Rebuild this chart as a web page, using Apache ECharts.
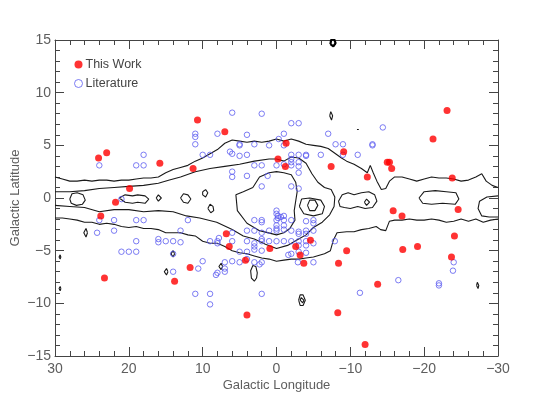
<!DOCTYPE html>
<html><head><meta charset="utf-8">
<script src="https://cdn.jsdelivr.net/npm/echarts@6/dist/echarts.min.js"></script>
<style>html,body{margin:0;padding:0;background:#fff}#c{width:554px;height:396px}</style>
</head><body><div id="c"></div>
<script>
// ---- data ----
const xTicks = [30, 20, 10, 0, -10, -20, -30];
const yTicks = [-15, -10, -5, 0, 5, 10, 15];
const seriesNames = ['This Work', 'Literature'];

const thisWork = [
 [24.1,3.8],[23.0,4.3],[19.9,0.9],[15.8,3.3],[11.3,2.8],[10.7,7.4],[7.0,6.3],[21.8,-0.4],[23.8,-1.7],
 [-0.2,3.7],[-1.3,5.2],[-1.2,3.0],[-9.1,4.4],[-7.4,3.0],[-12.3,2.0],[-15.0,3.4],[-15.3,3.4],[-15.6,2.8],
 [-21.2,5.6],[-23.1,8.3],[-23.8,1.9],[-15.8,-1.2],[-17.0,-1.7],[-24.6,-1.1],[23.3,-7.6],[13.8,-7.9],
 [11.7,-6.6],[6.8,-3.4],[6.4,-4.6],[4.2,-5.9],[4.0,-11.1],[0.9,-4.8],[-24.1,-3.6],[-23.7,-5.6],
 [-19.1,-4.6],[-17.1,-4.9],[-9.5,-5.0],[-8.4,-6.2],[-13.7,-8.2],[-8.3,-10.9],[-12.0,-13.9],
 [-4.6,-4.0],[-2.6,-4.6],[-3.2,-5.4],[-3.7,-6.2]
];

const literature = [
 [24.0,3.1],[19.0,3.1],[18.0,3.1],[18.0,4.1],[21.0,-0.1],
 [11.0,6.1],[11.0,5.8],[11.0,5.1],[10.0,4.1],[9.0,4.1],[8.0,6.1],[6.0,8.1],[6.3,4.4],[6.0,4.2],
 [5.0,5.1],[5.0,5.0],[4.0,6.0],[5.0,4.0],[4.0,4.1],[6.0,2.5],[6.0,2.0],[4.0,2.1],[3.0,5.1],
 [3.0,3.1],[2.0,3.1],[2.0,8.0],[2.0,1.1],[1.0,5.0],[1.2,2.1],[0.0,3.1],[-0.3,5.6],
 [-2.0,7.1],[-3.0,7.1],[-1.0,6.1],[-1.0,5.0],[-7.0,6.1],[-14.4,6.7],[-8.0,5.1],[-9.0,5.1],
 [-13.0,5.1],[-13.0,5.0],[-2.0,4.1],[-3.0,4.1],[-4.0,4.1],[-4.0,4.0],[-6.0,4.1],[-9.0,4.1],
 [-11.0,4.1],[-2.0,3.7],[-2.0,3.4],[-1.0,3.2],[-2.0,3.1],[-3.0,3.4],[-3.0,3.0],[-3.0,2.4],
 [-2.0,1.1],[-3.0,0.9],
 [24.0,-2.1],[22.0,-2.1],[19.0,-2.1],[18.0,-2.1],[24.3,-3.3],[22.0,-3.1],[19.0,-4.1],[16.0,-3.9],
 [16.0,-4.2],[15.0,-4.1],[21.0,-5.1],[20.0,-5.1],[19.0,-5.1],[14.0,-4.1],[13.0,-4.2],[13.0,-3.1],
 [12.0,-2.1],[14.0,-5.3],[14.0,-7.0],[11.0,-9.1],[9.0,-9.1],[9.0,-10.1],[10.6,-6.7],[10.0,-6.0],
 [9.0,-4.1],[8.0,-4.1],[8.0,-4.3],[7.8,-3.8],[8.2,-7.3],[8.0,-7.1],[7.0,-6.7],[7.0,-7.0],[7.0,-6.1],
 [6.0,-3.3],[6.0,-4.1],[5.0,-5.1],[5.0,-6.1],[4.0,-5.1],[4.0,-5.8],[6.0,-6.0],[4.0,-4.1],[4.0,-3.1],
 [3.0,-3.1],[3.0,-4.3],[3.0,-4.6],[3.0,-4.9],[3.0,-2.1],[2.0,-2.1],[2.0,-2.3],[2.0,-4.1],[2.0,-3.3],
 [2.0,-3.9],[2.0,-5.0],[3.0,-6.1],[2.0,-6.1],[2.3,-6.3],[2.0,-9.1],[1.0,-4.1],[1.0,-3.1],
 [0.0,-1.2],[0.0,-1.5],[-0.2,-1.7],[-0.2,-1.9],[0.0,-2.6],[0.0,-2.9],[0.0,-3.1],[0.0,-4.1],
 [-0.6,-1.8],[-1.0,-1.7],[-1.0,-2.1],[0.0,-2.1],[-2.0,-2.1],[-4.0,-2.2],[-5.0,-2.1],[-5.0,-2.4],
 [-1.0,-2.6],[-1.0,-3.0],[-2.0,-3.1],[-3.0,-3.2],[-4.0,-3.1],[-5.0,-3.1],[-3.0,-3.4],[-4.0,-3.4],
 [-1.0,-4.1],[-2.0,-4.1],[-3.0,-4.1],[-4.0,-4.1],[-5.0,-4.3],[-3.0,-4.5],[-4.0,-4.5],
 [-1.6,-5.4],[-2.0,-5.3],[-3.0,-5.1],[-4.0,-5.2],[-2.9,-6.1],[-5.0,-6.1],[-7.9,-4.1],[-11.3,-9.0],
 [-16.5,-7.8],[-22.0,-8.1],[-22.0,-8.3],[-24.0,-6.1],[-23.9,-6.9]
];

// contour lines (galactic l, b)
const outerTop = [[30,2.0],[29,1.8],[28,1.6],[27,1.6],[26,1.7],[25,1.6],[24,1.7],[23,1.7],[22,1.6],[21,1.7],[20,1.7],[19,1.8],[18,1.9],[17,1.9],[16,2.0],[15,2.4],[14,2.7],[13,2.9],[12,3.1],[11,3.5],[10,3.8],[9,4.2],[8,4.6],[7,5.2],[6,5.5],[5,5.4],[4,5.3],[3,5.4],[2,5.3],[1,5.4],[0,5.6],[-1,5.4],[-2,5.6],[-3,5.4],[-4,5.1],[-5,5.0],[-6,4.9],[-7,4.7],[-8,4.2],[-8.8,3.8],[-9.5,3.5],[-10.5,3.2],[-11.5,2.8],[-12.3,2.4],[-12.7,3.1],[-13.1,2.4],[-13.6,1.6],[-14.2,0.8],[-14.8,0.9],[-15.3,1.6],[-16,2.0],[-17,2.0],[-18,1.8],[-19,1.6],[-20,1.8],[-21,2.0],[-22,1.9],[-23,1.9],[-24,1.8],[-25,1.6],[-26,1.7],[-27,2.0],[-27.8,2.3],[-28.4,1.6],[-29.2,1.2],[-30,1.0]];
const outerBottom = [[-30,-2.0],[-29,-2.1],[-28,-2.3],[-27,-2.0],[-26,-2.2],[-25,-2.0],[-24,-2.2],[-23,-2.3],[-22,-2.1],[-21,-2.0],[-20,-2.1],[-19,-2.1],[-18,-2.0],[-17,-2.1],[-16,-2.1],[-15.3,-2.2],[-14.8,-3.1],[-14.1,-3.0],[-13.5,-2.7],[-12.5,-2.9],[-11.5,-3.0],[-10.5,-3.2],[-9.5,-3.2],[-8.2,-3.3],[-7.7,-4.0],[-7.3,-5.0],[-6.5,-5.3],[-5,-5.6],[-4,-5.7],[-3,-5.8],[-2,-5.8],[-1,-5.9],[0,-6.0],[1,-5.8],[2,-5.7],[3,-5.5],[4,-5.3],[5,-5.2],[6,-5.0],[7,-4.6],[8,-4.3],[9,-4.3],[10,-4.1],[11,-3.6],[12,-3.5],[13,-3.3],[14,-3.3],[15,-3.3],[16,-3.0],[17,-2.9],[18,-2.9],[19,-2.7],[20,-2.8],[21,-2.7],[22,-2.5],[23,-2.4],[24,-2.5],[25,-2.3],[26,-2.3],[27,-2.1],[28,-2.0],[29,-1.9],[30,-1.9]];
const midContour = [[30,0.6],[28,0.6],[26,0.7],[24,0.9],[22,1.0],[20,1.1],[18,1.2],[16,1.4],[14.5,1.7],[13,2.0],[11,2.5],[9,2.8],[7,3.0],[5,3.2],[3,3.5],[1,3.7],[0,3.7],[-1,3.5],[-2,3.9],[-3,3.8],[-4,3.3],[-4.8,2.3],[-5.6,1.5],[-6.5,1.0],[-7.4,0.8],[-7.9,0.1],[-7.8,-0.8],[-7.2,-1.6],[-6.2,-2.3],[-5,-2.8],[-4,-3.5],[-3,-3.9],[-1.5,-4.5],[0,-4.8],[1.5,-4.4],[3,-3.9],[4.5,-3.6],[6,-3.0],[8.1,-2.3],[10.4,-1.9],[12.2,-1.7],[14,-1.3],[16,-1.2],[18,-1.3],[20,-1.1],[22,-1.1],[24,-1.3],[26,-0.9],[28,-0.8],[30,-0.7]];
const innerContour = [[3.2,1.0],[2.3,2.0],[1,2.4],[0,2.5],[-1,2.4],[-2,2.2],[-2.6,1.5],[-2.8,0.6],[-2.6,-0.3],[-2.4,-1.2],[-2.5,-2.1],[-1.8,-2.9],[-1,-3.3],[0,-3.5],[2.3,-3.1],[4,-2.4],[5.3,-1.2],[5.5,0.3],[4.5,0.6],[3.2,1.0]];
const coreLoop = [[-3.1,-0.8],[-3.4,-0.1],[-4.5,0.0],[-6.0,-0.2],[-6.5,-0.8],[-6.2,-1.5],[-5.0,-1.7],[-3.7,-1.5],[-3.1,-0.8]];
const coreInner = [[-4.2,-0.7],[-4.5,-0.2],[-5.2,-0.2],[-5.6,-0.7],[-5.2,-1.2],[-4.5,-1.2],[-4.2,-0.7]];
const islandA = [[28.0,-0.1],[27.7,0.4],[27.0,0.5],[26.2,0.3],[25.9,-0.2],[26.3,-0.6],[27.1,-0.7],[27.8,-0.5],[28.0,-0.1]];
const islandB = [[21.3,0.0],[20.5,0.3],[19.5,0.2],[18.8,0.3],[17.8,0.2],[17.3,-0.1],[17.8,-0.5],[18.8,-0.4],[19.5,-0.5],[20.5,-0.4],[21.3,0.0]];
const islandC = [[16.3,0.0],[16.0,0.3],[15.6,0.0],[16.0,-0.3],[16.3,0.0]];
const islandD = [[13.0,0.0],[12.6,0.4],[12.0,0.3],[11.6,-0.1],[12.0,-0.5],[12.6,-0.4],[13.0,0.0]];
const islandE = [[10.0,0.6],[9.6,0.8],[9.3,0.5],[9.6,0.1],[10.0,0.3],[10.0,0.6]];
const islandF = [[9.3,-1.0],[9.0,-0.6],[8.6,-0.8],[8.5,-1.2],[8.9,-1.4],[9.3,-1.0]];
const islandR1 = [[-8.4,-0.3],[-8.9,0.3],[-9.7,0.5],[-10.5,0.3],[-11.5,0.5],[-12.5,0.6],[-13.3,0.3],[-13.6,-0.3],[-13.0,-0.9],[-12.0,-1.0],[-11.0,-0.8],[-10.0,-1.0],[-9.2,-0.9],[-8.6,-0.8],[-8.4,-0.3]];
const islandR1in = [[-11.9,-0.4],[-12.2,-0.1],[-12.6,-0.4],[-12.2,-0.7],[-11.9,-0.4]];
const islandR2 = [[-19.3,0.0],[-20,0.6],[-21.5,0.7],[-23,0.6],[-24.3,0.5],[-24.7,-0.1],[-24.2,-0.6],[-22.5,-0.5],[-21,-0.6],[-19.8,-0.5],[-19.3,0.0]];
const islandR3 = [[-30,0.2],[-28.5,0.1],[-27.5,-0.3],[-27.3,-1.0],[-27.8,-1.7],[-28.8,-1.8],[-30,-1.8]];
const blobTop = [[-7.3,14.6],[-7.4,15.0],[-7.8,15.1],[-8.0,14.7],[-7.7,14.4],[-7.3,14.6]];
const blob1 = [[-7.2,7.8],[-7.35,8.2],[-7.6,7.8],[-7.45,7.4],[-7.2,7.8]];
const blob2 = [[25.6,-3.3],[25.8,-2.9],[26.1,-3.3],[25.8,-3.7],[25.6,-3.3]];
const blob3 = [[14.7,-7.0],[14.9,-6.7],[15.2,-7.0],[14.9,-7.3],[14.7,-7.0]];
const blob4 = [[7.3,-6.5],[7.5,-6.2],[7.8,-6.5],[7.5,-6.8],[7.3,-6.5]];
const blob5 = [[2.6,-7.1],[2.8,-6.5],[3.2,-6.4],[3.5,-6.9],[3.4,-7.6],[3.0,-7.9],[2.7,-7.6],[2.6,-7.1]];
const blob6 = [[-3.0,-9.7],[-3.2,-9.2],[-3.6,-9.2],[-3.9,-9.7],[-3.6,-10.2],[-3.2,-10.2],[-3.0,-9.7]];
const blob6b = [[-3.2,-9.7],[-3.35,-9.45],[-3.6,-9.45],[-3.7,-9.7],[-3.55,-9.95],[-3.3,-9.95],[-3.2,-9.7]];
const blob7 = [[-27.1,-8.3],[-27.2,-8.0],[-27.4,-8.3],[-27.3,-8.6],[-27.1,-8.3]];
const blob8 = [[29.2,-5.6],[29.3,-5.4],[29.45,-5.6],[29.3,-5.8],[29.2,-5.6]];
const blob9 = [[29.2,-8.6],[29.3,-8.4],[29.45,-8.6],[29.3,-8.8],[29.2,-8.6]];
const blob10 = [[13.8,-5.3],[14.0,-5.0],[14.3,-5.3],[14.0,-5.6],[13.8,-5.3]];
const blob11 = [[-10.9,6.5],[-11.0,6.6],[-11.15,6.5],[-11.0,6.4],[-10.9,6.5]];

// ---- chart ----
const contourList = [outerTop, outerBottom, midContour, innerContour, coreLoop, coreInner,
  islandA, islandB, islandC, islandD, islandE, islandF, islandR1, islandR1in, islandR2, islandR3,
  blob1, blob2, blob3, blob4, blob5, blob6, blob6b, blob7, blob8, blob9, blob10, blob11];

const textColor = '#5e5e5e';
const fontFam = 'Liberation Sans, Arial, sans-serif';
const fmt = v => (v < 0 ? '\u2212' + Math.abs(v) : String(v));

const series = contourList.map(c => ({
  type: 'line', data: c, showSymbol: false, symbol: 'none', silent: true,
  lineStyle: { color: '#1a1a1a', width: 1.1 }, z: 2, animation: false
}));
series.push({
  type: 'line', data: blobTop, showSymbol: false, symbol: 'none', silent: true,
  lineStyle: { color: '#000', width: 2.2 }, z: 2, animation: false
});
series.push({
  name: seriesNames[1], type: 'scatter', data: literature, symbol: 'circle', symbolSize: 5.5,
  itemStyle: { color: 'rgba(0,0,0,0)', borderColor: '#5c5cf0', borderWidth: 1 }, z: 3
});
series.push({
  name: seriesNames[0], type: 'scatter', data: thisWork, symbol: 'circle', symbolSize: 7,
  itemStyle: { color: '#ff0000' }, z: 4
});

const axisCommon = {
  type: 'value', splitLine: { show: false },
  axisLine: { show: true, onZero: false, lineStyle: { color: '#444', width: 1 } },
  axisTick: { show: true, inside: true, length: 9, lineStyle: { color: '#444' } },
  minorTick: { show: true, splitNumber: 5, length: 5, lineStyle: { color: '#444' } },
  minorSplitLine: { show: false }
};

const option = {
  animation: false,
  backgroundColor: '#fff',
  grid: { left: 55, right: 56, top: 40, bottom: 40, containLabel: false, outerBoundsMode: 'none' },
  legend: {
    orient: 'vertical', left: 69, top: 53, itemGap: 6, itemWidth: 8, itemHeight: 8,
    textStyle: { color: '#444', fontSize: 12.5, fontFamily: fontFam, padding: [0, 0, 0, -2] },
    data: [
      { name: seriesNames[0], icon: 'circle' },
      { name: seriesNames[1], icon: 'circle', itemStyle: { color: 'rgba(0,0,0,0)', borderColor: '#5c5cf0', borderWidth: 1 } }
    ]
  },
  xAxis: [
    Object.assign({}, axisCommon, {
      position: 'bottom', min: xTicks[xTicks.length - 1], max: xTicks[0], interval: 10, inverse: true,
      axisLabel: { color: textColor, fontSize: 14, fontFamily: fontFam, margin: 6, formatter: fmt },
      name: 'Galactic Longitude', nameLocation: 'middle', nameGap: 23, nameMoveOverlap: false,
      nameTextStyle: { color: textColor, fontSize: 13, fontFamily: fontFam }
    }),
    Object.assign({}, axisCommon, {
      position: 'top', min: xTicks[xTicks.length - 1], max: xTicks[0], interval: 10, inverse: true,
      axisLabel: { show: false }
    })
  ],
  yAxis: [
    Object.assign({}, axisCommon, {
      position: 'left', min: yTicks[0], max: yTicks[yTicks.length - 1], interval: 5,
      axisLabel: { color: textColor, fontSize: 14, fontFamily: fontFam, margin: 4, formatter: fmt },
      name: 'Galactic Latitude', nameLocation: 'middle', nameGap: 33, nameRotate: 90, nameMoveOverlap: false,
      nameTextStyle: { color: textColor, fontSize: 13, fontFamily: fontFam }
    }),
    Object.assign({}, axisCommon, {
      position: 'right', min: yTicks[0], max: yTicks[yTicks.length - 1], interval: 5,
      axisLabel: { show: false }
    })
  ],
  series: series
};

const chart = echarts.init(document.getElementById('c'), null, { renderer: 'canvas' });
chart.setOption(option);
</script></body></html>
